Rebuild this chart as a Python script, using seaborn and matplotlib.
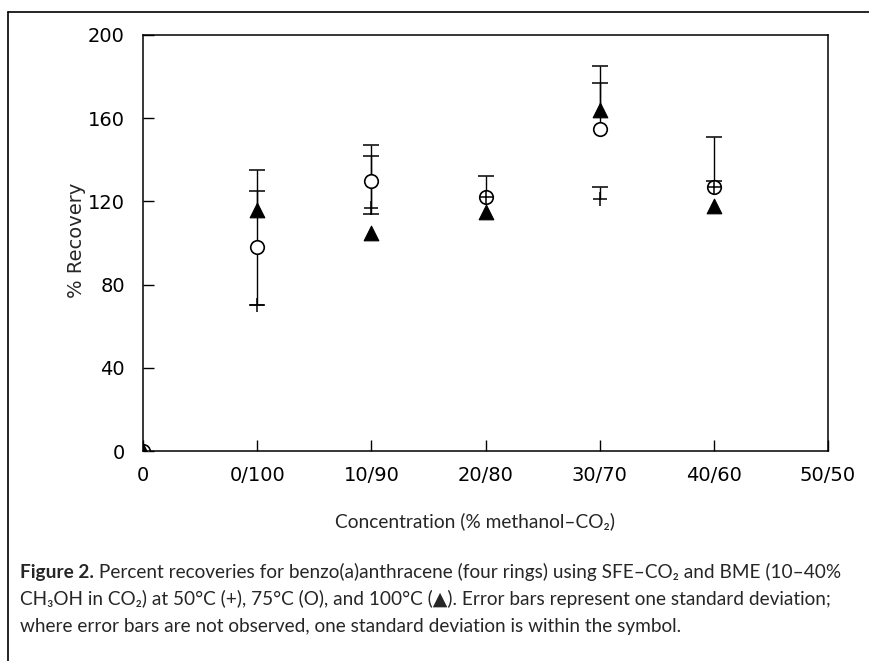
import numpy as np
import matplotlib
matplotlib.use("Agg")
import matplotlib.pyplot as plt
from matplotlib.lines import Line2D
import seaborn as sns

# categories on the x axis (position = index)
categories = ["0", "0/100", "10/90", "20/80", "30/70", "40/60", "50/50"]
x_pos = [0, 1, 2, 3, 4, 5]

# % recovery per temperature
rec_50 = [0, 70, 117, 122, 121, 127]
rec_75 = [0, 98, 130, 122, 155, 127]
rec_100 = [0, 116, 105, 115, 164, 118]

# error bar extent below / above the point (only the visible parts)
lo_50 = [0, 0, 0, 0, 0, 0]
hi_50 = [0, 0, 25, 0, 6, 3]
lo_75 = [0, 28, 16, 0, 0, 0]
hi_75 = [0, 27, 17, 10, 22, 24]
lo_100 = [0, 0, 0, 0, 0, 0]
hi_100 = [0, 19, 0, 0, 21, 0]

yticks = [0, 40, 80, 120, 160, 200]

sns.set_style("ticks")
plt.rcParams["font.family"] = ["DejaVu Sans"]

fig = plt.figure(figsize=(8.69, 6.61), dpi=100)
ax = fig.add_axes([0.1646, 0.3177, 0.7882, 0.6294])

# error bars: vertical lines + caps
series = [(rec_50, lo_50, hi_50), (rec_75, lo_75, hi_75), (rec_100, lo_100, hi_100)]
for rec, lo, hi in series:
    rec = np.array(rec, float)
    lo = np.array(lo, float)
    hi = np.array(hi, float)
    xs = np.array(x_pos)
    m = (lo + hi) > 0
    ax.vlines(xs[m], (rec - lo)[m], (rec + hi)[m], color="black", lw=1.0, zorder=2)
    for ends, sel in [((rec + hi), hi > 0), ((rec - lo), lo > 0)]:
        ax.plot(xs[sel], ends[sel], ls="none", marker="_", ms=11, mew=1.1,
                color="black", zorder=2)

# symbols
sns.scatterplot(x=x_pos, y=rec_75, ax=ax, marker="o", s=95, facecolor="white",
                edgecolor="black", linewidth=1.2, zorder=3, legend=False)
sns.scatterplot(x=x_pos, y=rec_100, ax=ax, marker="^", s=110, color="black",
                edgecolor="black", zorder=4, legend=False)
sns.scatterplot(x=x_pos, y=rec_50, ax=ax, marker="+", s=110, color="black",
                linewidth=1.1, zorder=5, legend=False)

ax.set_xlim(0, 6)
ax.set_ylim(0, 200)
ax.set_xticks(range(len(categories)))
ax.set_xticklabels(categories)
ax.set_yticks(yticks)
ax.set_yticklabels([str(v) for v in yticks])
ax.tick_params(axis="both", direction="in", length=8, width=1, labelsize=14,
               colors="black")
ax.tick_params(axis="y", pad=13)
ax.tick_params(axis="x", pad=11)
for s in ax.spines.values():
    s.set_visible(True)
    s.set_linewidth(1.1)
    s.set_color("black")
ax.set_xlabel("")
ax.set_ylabel("")

fig.text(0.088, 0.637, "% Recovery", rotation=90, ha="center", va="center",
         fontsize=14)

# caption area
cap_font = ["Lato", "DejaVu Sans"]
fig.text(0.547, 0.212, "Concentration (% methanol\u2013CO\u2082)", ha="center",
         va="center", fontsize=13.8, family=cap_font)

reg = dict(fontsize=13.7, family=cap_font)
bold = dict(fontsize=13.7, family=cap_font, fontweight="bold")
lines = [
    [("Figure 2.", bold),
     (" Percent recoveries for benzo(a)anthracene (four rings) using SFE\u2013CO\u2082 and BME (10\u201340%", reg)],
    [("CH\u2083OH in CO\u2082) at 50\u00b0C (+), 75\u00b0C (O), and 100\u00b0C (\u25b2). "
      "Error bars represent one standard deviation;", reg)],
    [("where error bars are not observed, one standard deviation is within the symbol.", reg)],
]
baselines = [0.1256, 0.0847, 0.0439]
fig.canvas.draw()
renderer = fig.canvas.get_renderer()
for y, segs in zip(baselines, lines):
    xt = 0.023
    for txt, kw in segs:
        t = fig.text(xt, y, txt, va="baseline", ha="left", **kw)
        bb = t.get_window_extent(renderer=renderer)
        xt = bb.x1 / fig.bbox.width

# page frame lines
fig.add_artist(Line2D([0.009, 1.0], [0.982, 0.982], color="black", lw=1.2,
                      transform=fig.transFigure))
fig.add_artist(Line2D([0.009, 0.009], [0.0, 0.982], color="black", lw=1.2,
                      transform=fig.transFigure))

fig.savefig("out.png", dpi=100)
